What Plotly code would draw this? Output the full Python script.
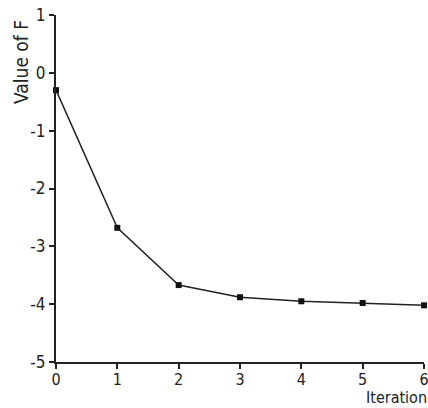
import plotly.graph_objects as go

iterations = [0, 1, 2, 3, 4, 5, 6]
f_values = [-0.3, -2.68, -3.67, -3.88, -3.95, -3.98, -4.02]
x_ticks = [0, 1, 2, 3, 4, 5, 6]
y_ticks = [1, 0, -1, -2, -3, -4, -5]
y_tick_text = ["1", "0", "-1", "-2", "-3", "-4", "-5"]

font_family = "DejaVu Sans Condensed, DejaVu Sans, Liberation Sans, sans-serif"

fig = go.Figure()
fig.add_trace(go.Scatter(
    x=iterations, y=f_values, mode="lines+markers",
    line=dict(color="#222222", width=1.5),
    marker=dict(symbol="square", size=6, color="#111111"),
    cliponaxis=False, showlegend=False,
))

fig.update_layout(
    width=428, height=408,
    margin=dict(l=56, r=4, t=15, b=46, autoexpand=False),
    paper_bgcolor="white", plot_bgcolor="white",
    font=dict(family=font_family, size=17, color="#222222"),
    xaxis=dict(
        range=[0, 6], tickvals=x_ticks, showgrid=False, zeroline=False,
        showline=True, linecolor="#222222", linewidth=2,
        ticks="outside", ticklen=5, tickwidth=1.5, tickcolor="#222222",
        ticklabeloverflow="allow", automargin=False, ticklabelstandoff=-3,
        tickfont=dict(size=16),
    ),
    yaxis=dict(
        range=[-5, 1], tickvals=y_ticks, ticktext=y_tick_text,
        showgrid=False, zeroline=False, automargin=False,
        showline=True, linecolor="#222222", linewidth=2,
        ticks="outside", ticklen=5, tickwidth=1.5, tickcolor="#222222",
    ),
    annotations=[
        dict(
            text="Iteration", xref="paper", yref="paper", x=1.0, y=0,
            xanchor="right", yanchor="bottom", yshift=-46, xshift=4,
            showarrow=False, font=dict(size=16), borderpad=0,
        ),
        dict(
            text="Value of F", xref="paper", yref="paper", x=-0.095, y=0.865,
            xanchor="center", yanchor="middle", textangle=-90,
            showarrow=False, font=dict(size=19),
        ),
    ],
)

fig.write_html(
    "out.html",
    config={"displayModeBar": False},
    post_script="document.body.style.margin='0';document.body.style.overflow='hidden';",
)
